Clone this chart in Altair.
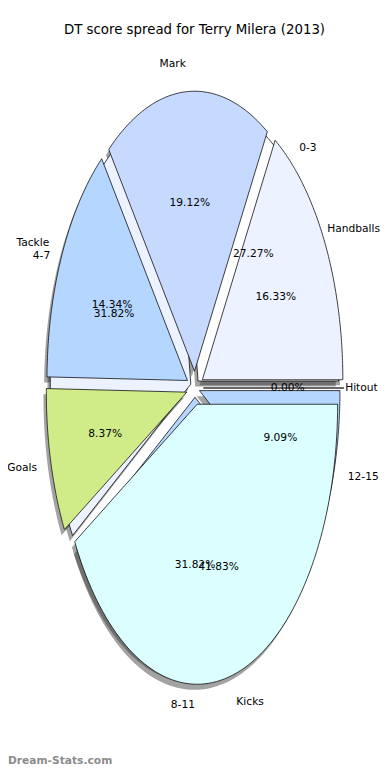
import altair as alt
import pandas as pd

title_text = "DT score spread for Terry Milera (2013)"
stat_labels = ["Handballs", "Mark", "Tackle", "Goals", "Kicks", "Hitout"]
stat_values = [16.33, 19.12, 14.34, 8.37, 41.83, 0.00]
stat_colors = ["#ecf2ff", "#c6d9ff", "#b4d6ff", "#d0ec88", "#dbffff", "#b4d6ff"]
range_labels = ["0-3", "4-7", "8-11", "12-15"]
range_counts = [6, 7, 7, 2]
range_colors = ["#ffffff", "#ecf2ff", "#b4d6ff", "#b4d6ff"]
watermark = "Dream-Stats.com"

EXPLODE_STATS = 0.06
EXPLODE_RANGES = 0.033
N = 90
FONT = "DejaVu Sans"
FS = 10.67          # label font size (px)
CHAR_EM = 0.56      # rough average glyph width, used to keep labels inside the canvas

rows = []
for i, (l, v) in enumerate(zip(range_labels, range_counts)):
    rows.append({"pie": "ranges", "key": "r_" + l, "label": l, "value": v, "order": i})
for i, (l, v) in enumerate(zip(stat_labels, stat_values)):
    rows.append({"pie": "stats", "key": "s_" + l, "label": l, "value": v, "order": i})
df = pd.DataFrame(rows)

keys = list(df["key"])
colors = range_colors + stat_colors

W, H = 374, 758
cx, cy, rx, ry = 187, 380, 140.5, 280
XMIN, XMAX = -cx / rx, (W - cx) / rx
xs = alt.Scale(domain=[XMIN, XMAX], nice=False, zero=False)
ys = alt.Scale(domain=[-(H - cy) / ry, cy / ry], nice=False, zero=False)

base = alt.Chart(df).transform_joinaggregate(
    total="sum(value)", groupby=["pie"]
).transform_window(
    cum="sum(value)", sort=[alt.SortField("order")], groupby=["pie"], frame=[None, 0]
).transform_calculate(
    a0="2*PI*(datum.cum - datum.value)/datum.total",
    a1="2*PI*datum.cum/datum.total",
    am="(datum.a0 + datum.a1)/2",
    ex=f"(datum.pie == 'stats' ? {EXPLODE_STATS} : {EXPLODE_RANGES}) * cos(datum.am)",
    ey=f"(datum.pie == 'stats' ? {EXPLODE_STATS} : {EXPLODE_RANGES}) * sin(datum.am)",
)

poly = base.transform_calculate(
    step=f"sequence(0, {N + 3})"
).transform_flatten(["step"]).transform_calculate(
    k=f"clamp(datum.step - 1, 0, {N})",
    apex=f"datum.step == 0 || datum.step == {N + 2}",
    t=f"datum.a0 + (datum.a1 - datum.a0) * datum.k / {N}",
    px="datum.ex + (datum.apex ? 0 : cos(datum.t))",
    py="datum.ey + (datum.apex ? 0 : sin(datum.t))",
    sx="datum.px - 0.02",
    sy="datum.py - 0.02",
)

shadow = poly.mark_line(filled=True, color="#333333", opacity=0.45, strokeWidth=0).encode(
    x=alt.X("sx:Q", scale=xs, axis=None),
    y=alt.Y("sy:Q", scale=ys, axis=None),
    order=alt.Order("step:Q"),
    detail="key:N",
)

color_enc = alt.Color("key:N", scale=alt.Scale(domain=keys, range=colors), legend=None)

def wedges(pie):
    return poly.transform_filter(f"datum.pie == '{pie}'").mark_line(
        filled=True, stroke="#111111", strokeWidth=0.8, strokeJoin="miter"
    ).encode(
        x=alt.X("px:Q", scale=xs, axis=None),
        y=alt.Y("py:Q", scale=ys, axis=None),
        order=alt.Order("step:Q"),
        color=color_enc,
        detail="key:N",
    )

lab = base.transform_calculate(
    lx="datum.ex + 1.1*cos(datum.am)",
    ly="datum.ey + 1.1*sin(datum.am)",
    qx="datum.ex + 0.6*cos(datum.am)",
    qy="datum.ey + 0.6*sin(datum.am)",
    pct="format(100*datum.value/datum.total, '.2f') + '%'",
    # keep left-aligned labels inside the canvas
    lxc=f"min(datum.lx, {XMAX} - (length(datum.label) * {CHAR_EM * FS} + 1) / {rx})",
)

txt = dict(font=FONT, fontSize=FS, color="black", baseline="middle")

pct = lab.mark_text(align="center", **txt).encode(
    x=alt.X("qx:Q", scale=xs, axis=None),
    y=alt.Y("qy:Q", scale=ys, axis=None),
    text="pct:N",
)
lab_left = lab.transform_filter("datum.lx > 0").mark_text(align="left", **txt).encode(
    x=alt.X("lxc:Q", scale=xs, axis=None),
    y=alt.Y("ly:Q", scale=ys, axis=None),
    text="label:N",
)
lab_right = lab.transform_filter("datum.lx <= 0").mark_text(align="right", **txt).encode(
    x=alt.X("lx:Q", scale=xs, axis=None),
    y=alt.Y("ly:Q", scale=ys, axis=None),
    text="label:N",
)

title = alt.Chart(pd.DataFrame({"t": [title_text]})).mark_text(
    align="center", baseline="middle", font=FONT, fontSize=13.33, color="black"
).encode(x=alt.value(186.5), y=alt.value(22), text="t:N")

wm = alt.Chart(pd.DataFrame({"t": [watermark]})).mark_text(
    align="left", baseline="alphabetic", font=FONT, fontSize=10.67, fontWeight="bold", color="#8c8c8c"
).encode(x=alt.value(0), y=alt.value(756), text="t:N")

chart = alt.layer(
    shadow, wedges("ranges"), wedges("stats"), pct, lab_left, lab_right, title, wm
).properties(
    width=W,
    height=H,
    padding=0,
    autosize=alt.AutoSizeParams(type="none"),
).configure_view(stroke=None)

chart.save("out.html", embed_options={"renderer": "svg", "actions": False})
